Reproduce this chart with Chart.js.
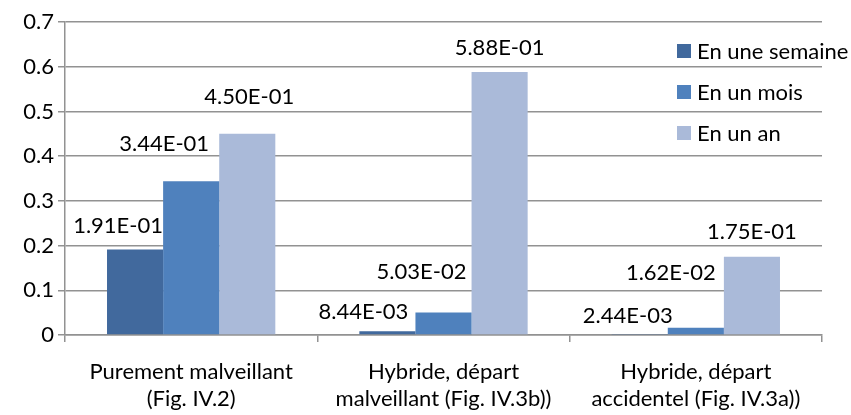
<!DOCTYPE html>
<html lang="fr">
<head>
  <meta charset="UTF-8" />
  <title>Probabilités</title>
  <script src="https://cdn.jsdelivr.net/npm/chart.js"></script>
  <style>
    html, body { margin: 0; padding: 0; background: #fff; }
    #wrap { width: 851px; height: 415px; }
  </style>
</head>
<body>
  <div id="wrap"><canvas id="probaChart" width="851" height="415"></canvas></div>

  <script>
    // values
    const categories = [
      ['Purement malveillant', '(Fig. IV.2)'],
      ['Hybride, départ', 'malveillant (Fig. IV.3b))'],
      ['Hybride, départ', 'accidentel (Fig. IV.3a))']
    ];
    const seriesNames = ['En une semaine', 'En un mois', 'En un an'];
    const enUneSemaine = [0.191, 0.00844, 0.00244];
    const enUnMois = [0.344, 0.0503, 0.0162];
    const enUnAn = [0.450, 0.588, 0.175];
    const yTicks = [0, 0.1, 0.2, 0.3, 0.4, 0.5, 0.6, 0.7];

    const colors = ['#41699d', '#4f81bd', '#aabad9'];
    const FONT = 'Lato, "Open Sans", sans-serif';
    const FS = 22;
    const gridGrey = '#929292';

    // label nudges (pixels), per series / category, to sit like the original
    const labelNudge = [
      [[-17, -24], [-24, -19], [-12, -18]],
      [[-27, -37], [-22, -41], [-25, -55]],
      [[2, -37], [0, -24], [0, -25]]
    ];

    function sci(v) {
      const [m, e] = v.toExponential(2).split('e');
      const n = parseInt(e, 10);
      return m + 'E' + (n < 0 ? '-' : '+') + String(Math.abs(n)).padStart(2, '0');
    }

    const valueLabels = {
      id: 'valueLabels',
      afterDatasetsDraw(chart) {
        const ctx = chart.ctx;
        ctx.save();
        ctx.font = FS + 'px ' + FONT;
        ctx.fillStyle = '#000';
        ctx.textAlign = 'center';
        ctx.textBaseline = 'middle';
        chart.data.datasets.forEach((ds, i) => {
          chart.getDatasetMeta(i).data.forEach((bar, j) => {
            const [dx, dy] = labelNudge[i][j];
            ctx.fillText(sci(ds.data[j]), bar.x + dx, bar.y + dy);
          });
        });
        ctx.restore();
      }
    };

    const sideLegend = {
      id: 'sideLegend',
      afterDraw(chart) {
        const ctx = chart.ctx;
        ctx.save();
        ctx.font = FS + 'px ' + FONT;
        ctx.textBaseline = 'middle';
        chart.data.datasets.forEach((ds, i) => {
          const y = 51 + i * 41;
          ctx.fillStyle = ds.backgroundColor;
          ctx.fillRect(677, y - 7, 14, 14);
          ctx.fillStyle = '#000';
          ctx.fillText(ds.label, 697, y + 1);
        });
        ctx.restore();
      }
    };

    const ctx = document.getElementById('probaChart').getContext('2d');
    new Chart(ctx, {
      type: 'bar',
      data: {
        labels: categories,
        datasets: [
          { label: seriesNames[0], data: enUneSemaine, backgroundColor: colors[0] },
          { label: seriesNames[1], data: enUnMois, backgroundColor: colors[1] },
          { label: seriesNames[2], data: enUnAn, backgroundColor: colors[2] }
        ]
      },
      options: {
        responsive: false,
        animation: false,
        layout: { padding: { top: 22, right: 29, left: 0, bottom: 0 } },
        datasets: { bar: { categoryPercentage: 0.667, barPercentage: 1.0 } },
        plugins: {
          legend: { display: false },
          tooltip: { enabled: false }
        },
        scales: {
          x: {
            afterFit(scale) { scale.height = 80; },
            grid: {
              offset: true,
              drawOnChartArea: false,
              drawTicks: true,
              tickLength: 7,
              color: gridGrey,
              lineWidth: 1.5
            },
            border: { color: gridGrey, width: 1.5 },
            ticks: {
              color: '#000',
              padding: 17,
              maxRotation: 0,
              font: { family: FONT, size: FS, lineHeight: 1.2 }
            }
          },
          y: {
            min: 0,
            max: 0.7,
            afterFit(scale) { scale.width = 65; },
            afterBuildTicks(scale) { scale.ticks = yTicks.map(v => ({ value: v })); },
            grid: { color: gridGrey, lineWidth: 1.5, tickLength: 7 },
            border: { color: gridGrey, width: 1.5 },
            ticks: {
              color: '#000',
              padding: 4,
              font: { family: FONT, size: FS },
              callback: v => String(Math.round(v * 10) / 10)
            }
          }
        }
      },
      plugins: [valueLabels, sideLegend]
    });
  </script>
</body>
</html>
